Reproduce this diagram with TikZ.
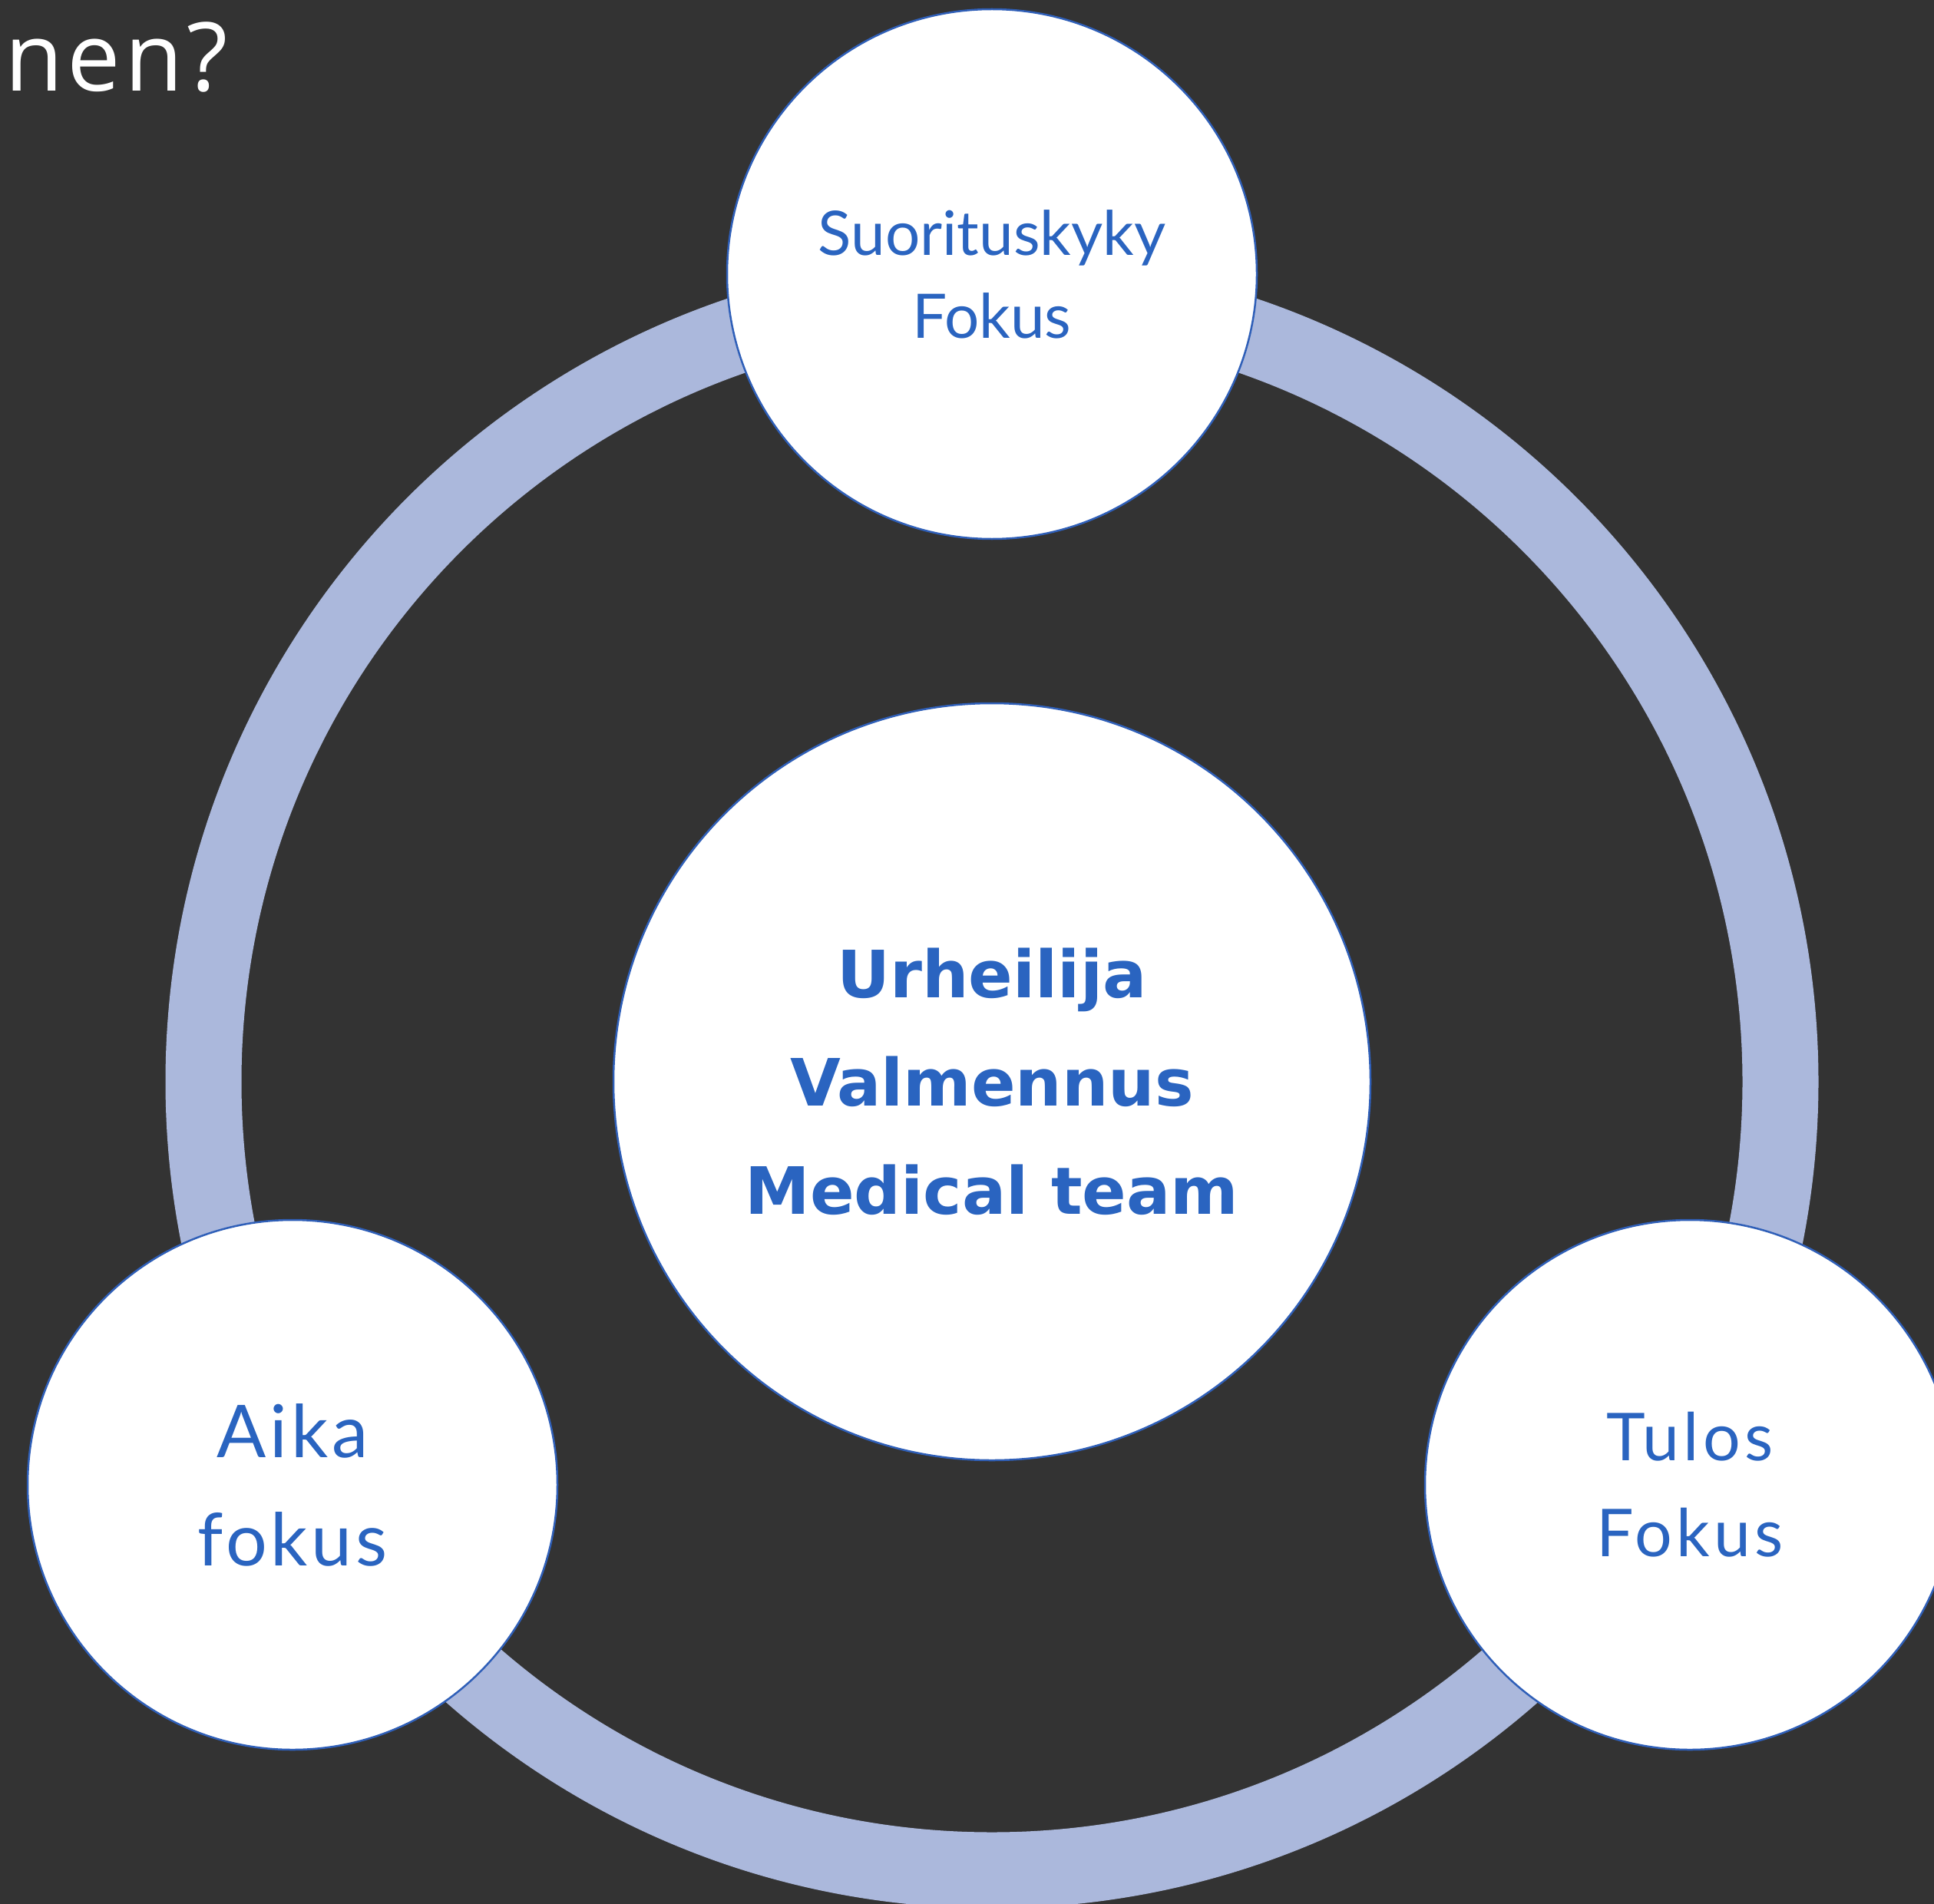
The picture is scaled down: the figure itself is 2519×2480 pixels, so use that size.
\documentclass[tikz,border=0pt]{standalone}
\usepackage{fontspec}
\setmainfont{Lato}
\newfontfamily\heavyfont{DejaVu Sans}
\newfontfamily\titlefont{Open Sans}
\usetikzlibrary{shapes}

\definecolor{bgdark}{HTML}{333333}
\definecolor{ringblue}{HTML}{ABB8DC}
\definecolor{textblue}{HTML}{2A64C0}
\definecolor{edgeblue}{HTML}{2F5FB8}

\begin{document}
\begin{tikzpicture}[x=1pt, y=-1pt,
    focus/.style={draw=edgeblue, line width=2.5pt, fill=white, circle, minimum size=690pt, inner sep=0pt, align=center, text=textblue}]
        % Background
        \fill[bgdark] (0,0) rectangle (2519,2480);
        \useasboundingbox (0,0) rectangle (2519,2480);

        % Ring behind the circles
        \draw[ringblue, line width=99pt] (1292,1409) circle (1027pt);

        % Center circle
        \node[focus, minimum size=986pt, font={\heavyfont\bfseries\fontsize{85}{141}\selectfont}] (core) at (1292,1409) {Urheilija\\Valmennus\\Medical team};

        % Outer circles
        \node[focus, font={\fontsize{80}{108}\selectfont}] (ability) at (1292,357) {Suorituskyky\\Fokus};
        \node[focus, font={\addfontfeature{LetterSpace=5}\fontsize{95}{141}\selectfont}] (time) at (381,1934) {Aika\\fokus};
        \node[focus, font={\addfontfeature{LetterSpace=6}\fontsize{86}{125}\selectfont}] (result) at (2201,1934) {Tulos\\Fokus};

        % Title fragment
        \node[anchor=base east, inner sep=0pt, text=white, font={\titlefont\addfontfeature{LetterSpace=4}\fontsize{124}{140}\selectfont}] (title) at (297,119) {nen?};
\end{tikzpicture}
\end{document}
